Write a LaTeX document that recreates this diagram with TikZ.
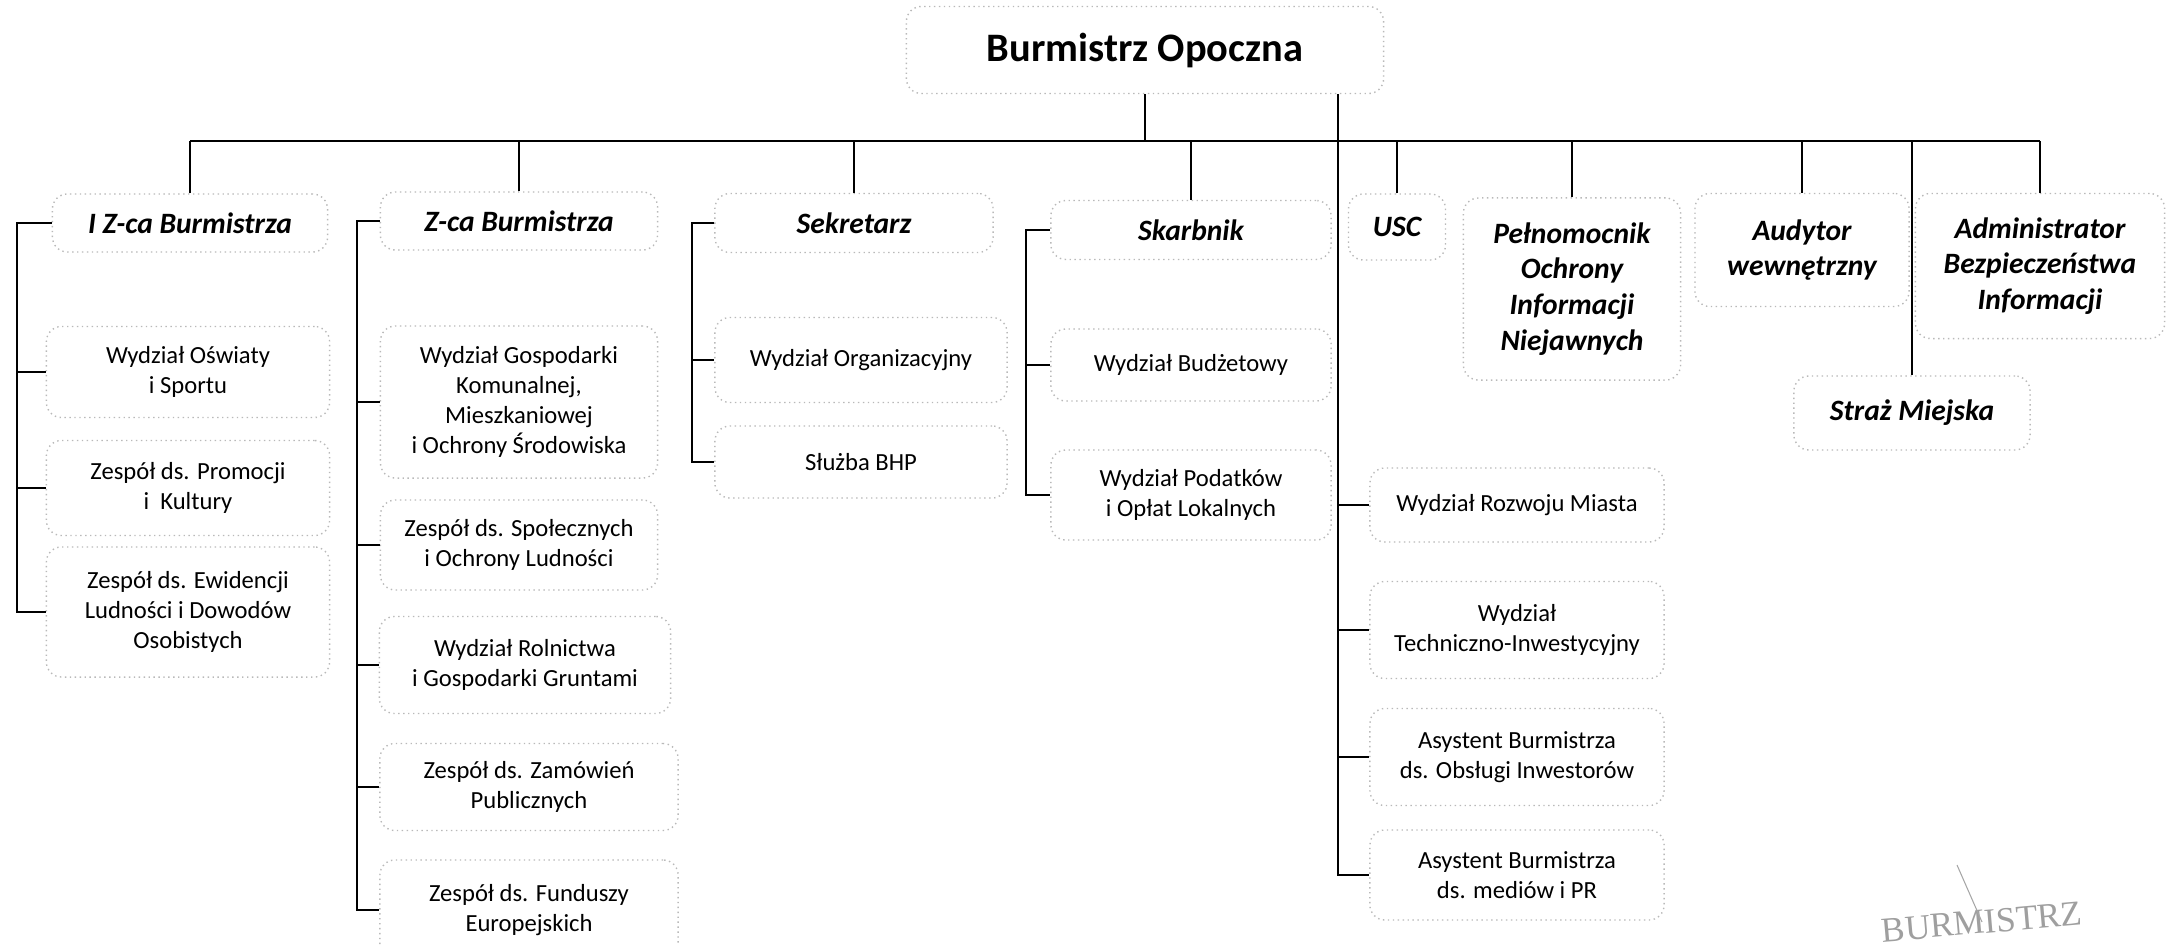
\documentclass[tikz,border=0pt]{standalone}
\usepackage{fontspec}
\setmainfont{Carlito}
\newfontfamily\stampfont{Liberation Serif}
\begin{document}
\begin{tikzpicture}
[x=0.01cm, y=-0.01cm,
 box/.style={draw=gray!55, densely dotted, rounded corners=0.15cm, align=center, inner sep=0pt},
 head/.style={box, font=\fontsize{8.4}{10.2}\selectfont\bfseries\itshape},
 unit/.style={box, font=\fontsize{7}{8.6}\selectfont},
 link/.style={line width=0.75pt}]
\useasboundingbox (0,0) rectangle (2169,945);

\node[box, font=\fontsize{11.5}{14}\selectfont\bfseries, minimum width=4.77cm, minimum height=0.87cm] (burm) at (1145,50) {Burmistrz Opoczna};

% I Z-ca
\node[head, minimum width=2.75cm, minimum height=0.58cm] (z1) at (190,223) {I Z-ca Burmistrza};
\node[unit, minimum width=2.83cm, minimum height=0.91cm] (z1a) at (188,372) {Wydział Oświaty\\i Sportu};
\node[unit, minimum width=2.83cm, minimum height=0.95cm] (z1b) at (188,488) {Zespół ds. Promocji\\i\ \ Kultury};
\node[unit, minimum width=2.83cm, minimum height=1.30cm] (z1c) at (188,612) {Zespół ds. Ewidencji\\Ludności i Dowodów\\Osobistych};

% Z-ca
\node[head, minimum width=2.77cm, minimum height=0.58cm] (z2) at (519,221) {Z-ca Burmistrza};
\node[unit, minimum width=2.77cm, minimum height=1.52cm] (z2a) at (519,402) {Wydział Gospodarki\\Komunalnej,\\Mieszkaniowej\\i Ochrony Środowiska};
\node[unit, minimum width=2.77cm, minimum height=0.90cm] (z2b) at (519,545) {Zespół ds. Społecznych\\i Ochrony Ludności};
\node[unit, minimum width=2.91cm, minimum height=0.97cm] (z2c) at (525,665) {Wydział Rolnictwa\\i Gospodarki Gruntami};
\node[unit, minimum width=2.98cm, minimum height=0.87cm] (z2d) at (529,787) {Zespół ds. Zamówień\\Publicznych};
\node[unit, minimum width=2.98cm, minimum height=1.00cm] (z2e) at (529,910) {Zespół ds. Funduszy\\Europejskich};

% Sekretarz
\node[head, minimum width=2.78cm, minimum height=0.59cm] (sek) at (854,223) {Sekretarz};
\node[unit, minimum width=2.92cm, minimum height=0.85cm] (seka) at (861,360) {Wydział Organizacyjny};
\node[unit, minimum width=2.92cm, minimum height=0.72cm] (sekb) at (861,462) {Służba BHP};

% Skarbnik
\node[head, minimum width=2.80cm, minimum height=0.59cm] (skb) at (1191,230) {Skarbnik};
\node[unit, minimum width=2.80cm, minimum height=0.72cm] (skba) at (1191,365) {Wydział Budżetowy};
\node[unit, minimum width=2.80cm, minimum height=0.90cm] (skbb) at (1191,495) {Wydział Podatków\\i Opłat Lokalnych};

% wprost
\node[unit, minimum width=2.94cm, minimum height=0.74cm] (r1) at (1517,505) {Wydział Rozwoju Miasta};
\node[unit, minimum width=2.94cm, minimum height=0.97cm] (r2) at (1517,630) {Wydział\\Techniczno-Inwestycyjny};
\node[unit, minimum width=2.94cm, minimum height=0.97cm] (r3) at (1517,757) {Asystent Burmistrza\\ds. Obsługi Inwestorów};
\node[unit, minimum width=2.94cm, minimum height=0.90cm] (r4) at (1517,875) {Asystent Burmistrza\\ds. mediów i PR};

\node[head, minimum width=0.97cm, minimum height=0.66cm] (usc) at (1397,227) {USC};
\node[head, minimum width=2.17cm, minimum height=1.82cm] (pel) at (1572,289) {Pełnomocnik\\Ochrony\\Informacji\\Niejawnych};
\node[head, minimum width=2.14cm, minimum height=1.13cm] (aud) at (1802,250) {Audytor\\wewnętrzny};
\node[head, minimum width=2.36cm, minimum height=0.74cm] (straz) at (1912,413) {Straż Miejska};
\node[head, minimum width=2.49cm, minimum height=1.45cm] (adm) at (2040,266) {Administrator\\Bezpieczeństwa\\Informacji};

% linie
\coordinate (bus) at (0,141);
\draw[link] (z1.north |- bus) -- (adm.north |- bus);
\draw[link] (burm.south) -- (burm.south |- bus);
\foreach \n in {z1,z2,sek,skb,usc,pel,aud,straz,adm}
  \draw[link] (\n.north) -- (\n.north |- bus);

\coordinate (s1) at (17,0);
\draw[link] (z1.west) -| (s1 |- z1c.west) -- (z1c.west);
\foreach \n in {z1a,z1b} \draw[link] (s1 |- \n.west) -- (\n.west);

\coordinate (s2) at (357,0);
\draw[link] (z2.west) -| (s2 |- z2e.west) -- (z2e.west);
\foreach \n in {z2a,z2b,z2c,z2d} \draw[link] (s2 |- \n.west) -- (\n.west);

\coordinate (s3) at (692,0);
\draw[link] (sek.west) -| (s3 |- sekb.west) -- (sekb.west);
\draw[link] (s3 |- seka.west) -- (seka.west);

\coordinate (s4) at (1026,0);
\draw[link] (skb.west) -| (s4 |- skbb.west) -- (skbb.west);
\draw[link] (s4 |- skba.west) -- (skba.west);

\coordinate (s5) at (1338,0);
\draw[link] (s5 |- burm.south) -- (s5 |- r4.west) -- (r4.west);
\foreach \n in {r1,r2,r3} \draw[link] (s5 |- \n.west) -- (\n.west);

% pieczatka
\node[text=gray!75, font=\stampfont\fontsize{10}{12}\selectfont, rotate=5] (stamp) at (1982,922) {BURMISTRZ};
\coordinate (sig) at (1957,865);
\draw[gray!70, line width=0.3pt] (sig) -- (stamp.center);
\end{tikzpicture}
\end{document}
